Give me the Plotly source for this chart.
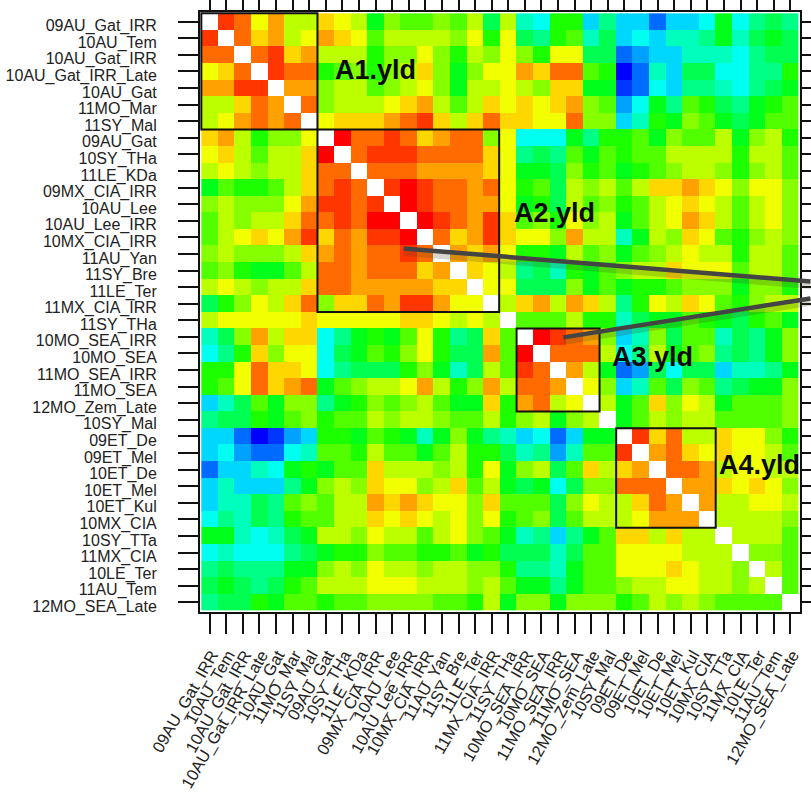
import plotly.graph_objects as go

labels = ["09AU_Gat_IRR","10AU_Tem","10AU_Gat_IRR","10AU_Gat_IRR_Late","10AU_Gat","11MO_Mar","11SY_Mal",
"09AU_Gat","10SY_THa","11LE_KDa","09MX_CIA_IRR","10AU_Lee","10AU_Lee_IRR","10MX_CIA_IRR","11AU_Yan","11SY_Bre","11LE_Ter","11MX_CIA_IRR",
"11SY_THa","10MO_SEA_IRR","10MO_SEA","11MO_SEA_IRR","11MO_SEA","12MO_Zem_Late","10SY_Mal",
"09ET_De","09ET_Mel","10ET_De","10ET_Mel","10ET_Kul","10MX_CIA","10SY_TTa","11MX_CIA","10LE_Ter","11AU_Tem","12MO_SEA_Late"]

# Upper triangle of the (symmetric) correlation matrix, in percent.
r00 = [90,85,70,80,65,65,75,70,65,45,60,55,55,60,55,65,40,65,30,25,50,50,20,35,20,20,10,20,20,25,45,25,35,40,35]
r01 = [85,75,80,65,70,80,75,70,55,65,65,65,65,60,70,50,70,40,35,50,55,30,40,20,25,20,30,30,35,45,30,40,45,40]
r02 = [85,90,75,80,65,65,65,50,60,60,70,60,50,65,60,70,60,50,70,70,40,40,10,15,20,20,30,30,30,25,35,40,40]
r03 = [90,85,85,50,55,60,50,60,65,75,60,45,60,70,70,80,75,85,85,55,50,0,10,30,20,40,40,25,25,35,35,50]
r04 = [80,80,60,65,65,55,60,65,70,60,45,65,65,70,65,60,75,75,45,45,5,10,25,20,35,35,30,25,35,40,45]
r05 = [85,60,65,65,65,70,75,80,65,55,65,75,70,75,70,75,80,60,55,15,25,45,35,55,50,40,35,45,50,55]
r06 = [70,75,75,75,80,85,90,75,65,75,85,75,75,70,70,85,60,60,20,30,50,45,60,55,45,40,45,55,55]
r07 = [95,85,85,90,85,75,80,85,85,60,70,25,25,25,45,35,50,50,55,45,60,55,55,65,45,60,65,50]
r08 = [85,90,90,90,85,85,85,85,75,70,35,40,35,55,45,55,50,55,55,65,65,65,65,50,65,65,55]
r09 = [85,85,85,80,80,80,80,75,70,45,45,40,60,50,55,45,50,55,60,65,65,60,50,60,65,55]
r10 = [90,95,90,85,85,80,85,70,50,55,40,65,60,65,55,65,75,75,80,75,70,60,70,70,60]
r11 = [95,90,85,85,80,80,70,45,50,40,65,55,60,50,55,65,70,75,70,65,55,65,70,60]
r12 = [95,90,85,80,90,75,55,60,50,70,60,65,45,55,65,70,80,75,65,55,65,70,60]
r13 = [85,75,80,90,75,70,70,60,80,65,65,30,45,65,60,75,70,55,50,60,65,60]
r14 = [80,75,80,70,50,50,45,65,55,60,45,55,60,65,70,65,65,50,65,65,55]
r15 = [75,70,65,35,40,30,50,45,55,60,65,65,75,70,70,70,55,65,65,55]
r16 = [70,70,40,40,40,60,45,55,45,50,50,55,60,60,60,45,60,60,50]
r17 = [65,75,80,65,80,75,65,35,50,70,65,75,70,55,50,60,65,65]
r18 = [55,55,55,65,50,50,30,40,45,45,55,50,45,40,50,55,45]
r19 = [95,90,85,80,60,20,30,60,40,55,55,30,40,35,45,60]
r20 = [85,85,85,65,25,35,65,45,55,60,35,40,35,45,60]
r21 = [80,65,45,10,15,40,25,40,40,20,30,30,35,45]
r22 = [70,60,20,30,55,40,60,55,35,40,45,45,60]
r23 = [65,45,55,75,60,70,65,45,55,55,55,60]
r24 = [45,55,65,60,65,65,55,55,55,55,60]
r25 = [90,75,85,65,65,75,70,70,60,50]
r26 = [80,85,75,70,75,70,70,65,55]
r27 = [85,85,80,65,70,70,65,65]
r28 = [80,80,75,70,75,70,60]
r29 = [80,65,65,70,70,65]
r30 = [65,65,65,65,60]
r31 = [65,65,65,55]
r32 = [60,60,55]
r33 = [65,55]
r34 = [55]
upper = [r00,r01,r02,r03,r04,r05,r06,r07,r08,r09,r10,r11,r12,r13,r14,r15,r16,r17,r18,r19,
         r20,r21,r22,r23,r24,r25,r26,r27,r28,r29,r30,r31,r32,r33,r34,[]]

n = len(labels)
z = [[None] * n for _ in range(n)]
for i, row in enumerate(upper):
    for k, v in enumerate(row):
        z[i][i + 1 + k] = v
        z[i + 1 + k][i] = v

# R rainbow(20), blue for low values to red for high values
palette = ["#0000FF","#0036FF","#006BFF","#00A1FF","#00D7FF","#00FFF1","#00FFBC","#00FF86","#00FF51","#00FF1B",
           "#1BFF00","#51FF00","#86FF00","#BCFF00","#F1FF00","#FFD700","#FFA100","#FF6B00","#FF3600","#FF0000"]
scale = []
for i, c in enumerate(palette):
    scale.append([i / 20, c])
    scale.append([(i + 1) / 20, c])

W, H = 811, 794
L, R, T, B = 199.5, 800.5, 11.7, 612.5
def px(x): return (x - L) / (R - L)
def py(y): return 1 - (y - T) / (B - T)

fig = go.Figure(go.Heatmap(z=z, x=list(range(n)), y=list(range(n)), colorscale=scale,
                           zmin=-2.5, zmax=97.5, showscale=False, hoverongaps=False))

boxes = [(-0.5, 6.5, -0.5, 6.5), (6.5, 17.45, 6.5, 17.5), (18.5, 23.5, 18.5, 23.5), (24.5, 30.5, 24.5, 30.5)]
shapes = [dict(type="rect", xref="x", yref="y", x0=a, x1=b, y0=c, y1=d,
               line=dict(color="#111111", width=2), layer="above") for a, b, c, d in boxes]

pointers = [((403.5, 248.5), (811, 281.5)), ((563.5, 337.5), (811, 298.5))]
for (x0, y0), (x1, y1) in pointers:
    shapes.append(dict(type="line", xref="paper", yref="paper", x0=px(x0), x1=px(x1), y0=py(y0 + 4), y1=py(y1 + 4),
                       line=dict(color="rgba(70,70,30,0.22)", width=7), layer="above"))
    shapes.append(dict(type="line", xref="paper", yref="paper", x0=px(x0), x1=px(x1), y0=py(y0), y1=py(y1),
                       line=dict(color="#444444", width=4.5), layer="above"))

notes = [("A1.yld", 375, 70), ("A2.yld", 555, 213), ("A3.yld", 653, 357), ("A4.yld", 760, 465)]
annotations = [dict(text="<b>" + t + "</b>", xref="paper", yref="paper", x=px(x), y=py(y), showarrow=False,
                    xanchor="center", yanchor="middle", font=dict(family="Liberation Sans", size=27, color="#0a0a0a"))
               for t, x, y in notes]

axis = dict(tickmode="array", tickvals=list(range(n)), ticktext=labels, ticks="outside", ticklen=20, tickwidth=2,
            tickcolor="#111111", showline=True, linewidth=2, linecolor="#111111", mirror="ticks", showgrid=False,
            zeroline=False, automargin=False, tickfont=dict(family="Liberation Sans", size=16, color="#222222"))

fig.update_layout(width=W, height=H, margin=dict(l=L, r=W - R, t=T, b=H - B, pad=0, autoexpand=False),
                  paper_bgcolor="white", plot_bgcolor="white",
                  shapes=shapes, annotations=annotations,
                  xaxis=dict(axis, range=[-0.58, 35.58], tickangle=-60, ticklabelstandoff=5, ticklabelshift=2,
                             tickfont=dict(family="Liberation Sans", size=16.5, color="#222222")),
                  yaxis=dict(axis, range=[35.58, -0.58], ticklabelstandoff=18, ticklabelshift=-4))

fig.write_html("out.html", config={"displayModeBar": False},
               post_script="document.body.style.margin='0';document.body.style.overflow='hidden';")
